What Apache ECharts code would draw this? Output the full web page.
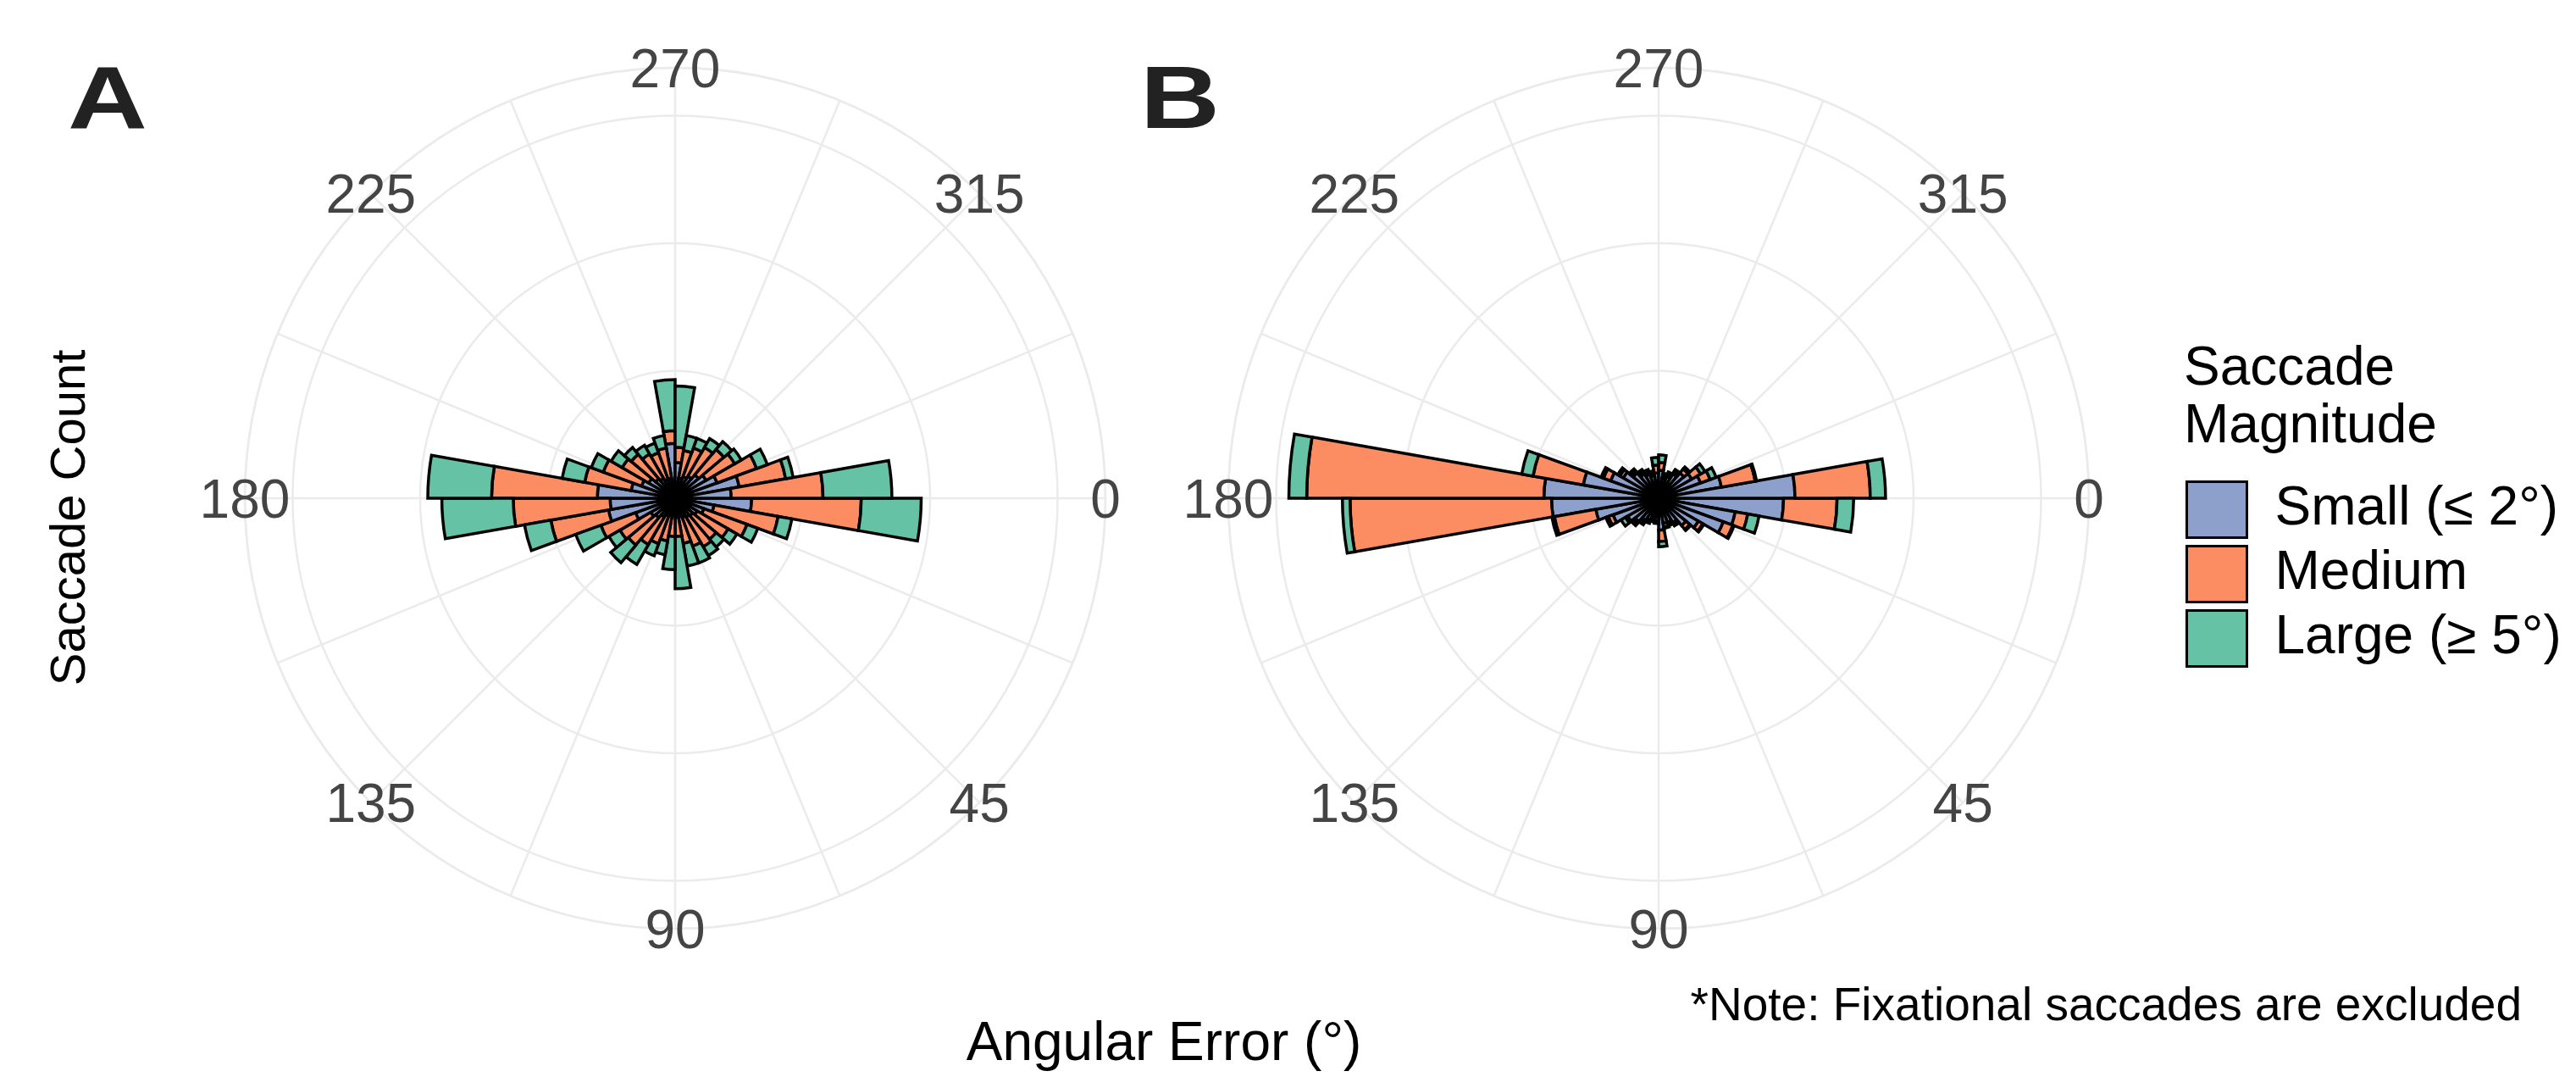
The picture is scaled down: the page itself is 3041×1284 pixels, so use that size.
<!DOCTYPE html>
<html>
<head>
<meta charset="utf-8">
<script src="https://cdn.jsdelivr.net/npm/echarts@6/dist/echarts.min.js"></script>
<style>
html,body{margin:0;padding:0;background:#fff;}
#chart{width:3041px;height:1284px;}
</style>
</head>
<body>
<div id="chart"></div>
<script>
// ---- data ----
const binStarts = [0,10,20,30,40,50,60,70,80,90,100,110,120,130,140,150,160,170,
                   180,190,200,210,220,230,240,250,260,270,280,290,300,310,320,330,340,350];
const angleTickValues = [0,45,90,135,180,225,270,315];
const angleTickLabels = ['0','45','90','135','180','225','270','315'];
const seriesNames = ['Small (≤ 2°)','Medium','Large (≥ 5°)'];

// Panel A (counts per 10° bin, stacked segments)
const A_small  = [60,31,24,20,18,17,16,15,15,14,14,15,17,20,22,33,53,51,
                  61,35,28,24,20,18,16,16,43,28,16,18,20,24,28,35,51,44];
const A_medium = [86,51,36,28,24,27,24,21,15,16,20,23,25,28,28,29,46,76,
                  83,37,32,24,25,22,22,24,10,12,22,24,26,26,26,33,37,72];
const A_large  = [47,11, 9, 8, 8, 8,14,18,41,26,11,10,18,18,10,21,21,56,
                  50,18,10,10, 7, 8, 8,10,40,48,12, 8, 8, 8, 6, 9, 6,54];

// Panel B
const B_small  = [98,61,54,36,28,22,20,20,25,15,16,18,20,24,28,38,50,84,
                  90,60,40,32,26,22,20,18,20,22,16,18,22,26,30,35,50,107];
const B_medium = [42,10, 8, 4, 4, 2, 2, 3, 9, 3, 2, 2, 2, 2, 2, 4,33,158,
                  186,40, 6, 3, 2, 2, 2, 2, 6, 6, 2, 2, 2, 4, 8, 8,27,59];
const B_large  = [13, 9, 1, 1, 1, 1, 1, 1, 4, 2, 1, 1, 2, 2, 4, 2, 2, 6,
                  14, 9, 2, 2, 2, 2, 2, 2, 6, 6, 2, 2, 2, 2, 4, 5, 1,12];

// ---- style ----
const FONT = "'Liberation Sans', Arial, sans-serif";
const COLORS = ['#8DA0CB','#FC8D62','#66C2A5'];
const GRID = '#EBEBEB';
const R_MAX = 337.5;
const centers = [[797,588],[1958,588]];
const RADIUS = 508;

const polar = [];
const angleAxis = [];
const radiusAxis = [];
const series = [];

function addPanel(idx, small, medium, large) {
  const c = centers[idx];
  const gi = idx * 2, bi = idx * 2 + 1;
  polar.push({center: c, radius: RADIUS});
  polar.push({center: c, radius: RADIUS});
  angleAxis.push({
    polarIndex: gi, type: 'value', min: 0, max: 360, interval: 22.5,
    startAngle: 0, clockwise: true,
    axisLine: {show: true, lineStyle: {color: GRID, width: 2.5}},
    axisTick: {show: false}, axisLabel: {show: false},
    splitLine: {show: true, lineStyle: {color: GRID, width: 2.5}}
  });
  angleAxis.push({
    polarIndex: bi, type: 'category', data: binStarts, boundaryGap: true,
    startAngle: 0, clockwise: true,
    axisLine: {show: false}, axisTick: {show: false}, axisLabel: {show: false},
    splitLine: {show: false}
  });
  radiusAxis.push({
    polarIndex: gi, type: 'value', min: 0, max: R_MAX, interval: 100,
    axisLine: {show: false}, axisTick: {show: false}, axisLabel: {show: false},
    splitLine: {show: true, lineStyle: {color: GRID, width: 2.5}}
  });
  radiusAxis.push({
    polarIndex: bi, type: 'value', min: 0, max: R_MAX,
    axisLine: {show: false}, axisTick: {show: false}, axisLabel: {show: false},
    splitLine: {show: false}
  });
  // angle tick labels, centred on the outer circle
  series.push({
    type: 'scatter', coordinateSystem: 'polar', polarIndex: gi,
    symbolSize: 0, silent: true,
    itemStyle: {opacity: 1},
    data: angleTickValues.map(v => [R_MAX, v]),
    label: {
      show: true, position: 'inside', offset: [0, 5], opacity: 1,
      formatter: p => angleTickLabels[p.dataIndex],
      fontSize: 64, fontFamily: FONT, color: '#444444'
    }
  });
  [small, medium, large].forEach((d, k) => {
    series.push({
      type: 'bar', coordinateSystem: 'polar', polarIndex: bi,
      name: seriesNames[k], stack: 'panel' + idx, data: d,
      barCategoryGap: '0%',
      itemStyle: {color: COLORS[k], borderColor: '#000', borderWidth: 3.5},
      emphasis: {disabled: true}
    });
  });
}
addPanel(0, A_small, A_medium, A_large);
addPanel(1, B_small, B_medium, B_large);

const option = {
  animation: false,
  backgroundColor: '#fff',
  polar, angleAxis, radiusAxis, series,
  title: [
    {text: 'Saccade\nMagnitude', left: 2573, top: 397,
     textStyle: {fontSize: 64, lineHeight: 68, fontWeight: 'normal', color: '#000', fontFamily: FONT}}
  ],
  legend: {
    data: seriesNames, orient: 'vertical', left: 2575, top: 562,
    icon: 'rect', itemWidth: 71, itemHeight: 66, itemGap: 7,
    selectedMode: false,
    itemStyle: {borderColor: '#000', borderWidth: 3},
    textStyle: {fontSize: 64, color: '#000', fontFamily: FONT, padding: [0,0,0,28]}
  },
  graphic: [
    {type: 'text', x: 80, y: 122, scaleX: 1.25,
     style: {text: 'A', font: 'bold 104px ' + FONT, fill: '#222', align: 'left', verticalAlign: 'middle'}},
    {type: 'text', x: 1346, y: 122, scaleX: 1.25,
     style: {text: 'B', font: 'bold 104px ' + FONT, fill: '#222', align: 'left', verticalAlign: 'middle'}},
    {type: 'text', x: 84, y: 611, rotation: Math.PI / 2,
     style: {text: 'Saccade Count', font: '58px ' + FONT, fill: '#000', align: 'center', verticalAlign: 'middle'}},
    {type: 'text', x: 1374, y: 1233,
     style: {text: 'Angular Error (°)', font: '64px ' + FONT, fill: '#000', align: 'center', verticalAlign: 'middle'}},
    {type: 'text', x: 2977, y: 1189,
     style: {text: '*Note: Fixational saccades are excluded', font: '55px ' + FONT, fill: '#000', align: 'right', verticalAlign: 'middle'}}
  ]
};
const chart = echarts.init(document.getElementById('chart'), null, {renderer: 'canvas'});
chart.setOption(option);
</script>
</body>
</html>
